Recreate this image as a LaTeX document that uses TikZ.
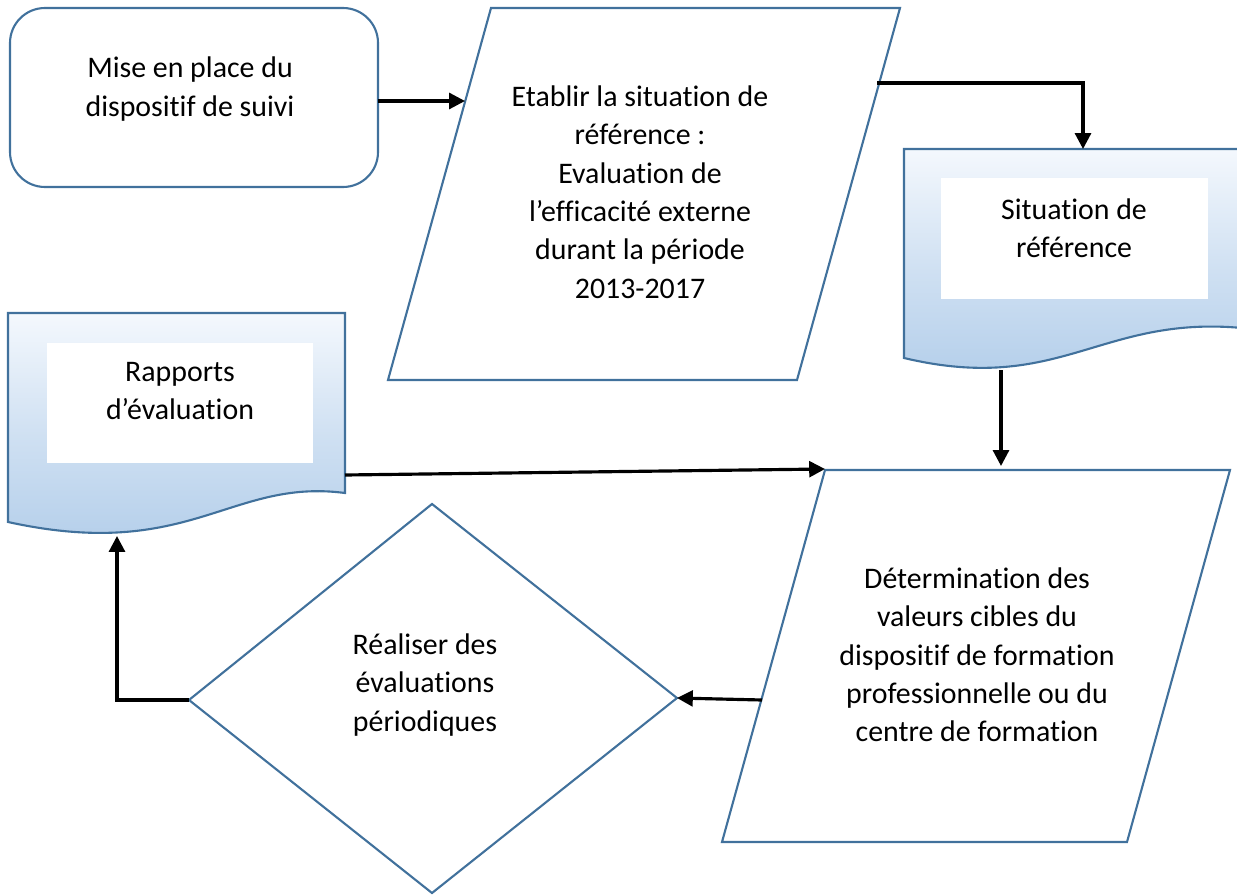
\documentclass[tikz,border=0pt]{standalone}
\usepackage{fontspec}
\setmainfont{Carlito}[RawFeature={-liga;-clig;-rlig}]
\usetikzlibrary{arrows.meta}
\definecolor{edge}{HTML}{41719C}
\definecolor{shtop}{HTML}{F4F8FD}
\definecolor{shbot}{HTML}{B0CCE9}
\begin{document}
\begin{tikzpicture}[x=0.02cm,y=-0.02cm,
  shapeline/.style={draw=edge,line width=1.2pt},
  docfill/.style={top color=shtop,bottom color=shbot,middle color=shbot!55!shtop},
  conn/.style={black,line width=1.8pt,-{Triangle[length=9pt,width=9pt]}},
  lbl/.style={align=center,font=\fontsize{17}{21.8}\selectfont}]
\useasboundingbox (0,0) rectangle (1237,895);
% start box
\draw[shapeline,rounded corners=0.7cm] (10,8) rectangle (378,187);
\node[lbl] (mise) at (190,89) {Mise en place du\\dispositif de suivi};
\coordinate (miseR) at (378,101);
% parallelogram 1
\draw[shapeline] (491,8) -- (900,8) -- (797,380) -- (388,380) -- cycle;
\node[lbl] (etab) at (640,192) {Etablir la situation de\\référence :\\Evaluation de\\l’efficacité externe\\durant la période\\2013-2017};
\coordinate (etabL) at (465,101);
\coordinate (etabR) at (877,83);
% document situation
\path[docfill] (904,149) -- (1242,149) -- (1242,328) .. controls (1100,315) and (1060,395) .. (904,358) -- cycle;
\draw[shapeline] (1242,328) .. controls (1100,315) and (1060,395) .. (904,358) -- (904,149) -- (1242,149);
\fill[white] (941,178) rectangle (1208,299);
\node[lbl] (sit) at (1074,228) {Situation de\\référence};
\coordinate (sitT) at (1083,149);
\coordinate (sitB) at (1001,370);
% document rapports
\path[docfill] (8,313) -- (345,313) -- (345,493) .. controls (230,478) and (190,562) .. (8,522) -- cycle;
\draw[shapeline] (8,313) -- (345,313) -- (345,493) .. controls (230,478) and (190,562) .. (8,522) -- cycle;
\fill[white] (47,343) rectangle (313,463);
\node[lbl] (rap) at (180,391) {Rapports\\d’évaluation};
\coordinate (rapR) at (345,475);
\coordinate (rapB) at (117,536);
% parallelogram 2
\draw[shapeline] (825,470) -- (1230,470) -- (1127,842) -- (722,842) -- cycle;
\node[lbl] (det) at (977,655) {Détermination des\\valeurs cibles du\\dispositif de formation\\professionnelle ou du\\centre de formation};
\coordinate (detT) at (1001,466);
\coordinate (detL) at (825,469);
\coordinate (detLm) at (762,700);
% diamond
\draw[shapeline] (432,504) -- (677,698) -- (432,893) -- (189,700) -- cycle;
\node[lbl] (real) at (425,685) {Réaliser des\\évaluations\\périodiques};
\coordinate (realR) at (677,698);
\coordinate (realL) at (189,700);
% connectors
\draw[conn] (miseR) -- (etabL);
\draw[conn] (etabR) -| (sitT);
\draw[conn] (sitB) -- (detT);
\draw[conn] (rapR) -- (detL);
\draw[conn] (detLm) -- (realR);
\draw[conn] (realL) -| (rapB);
\end{tikzpicture}
\end{document}
